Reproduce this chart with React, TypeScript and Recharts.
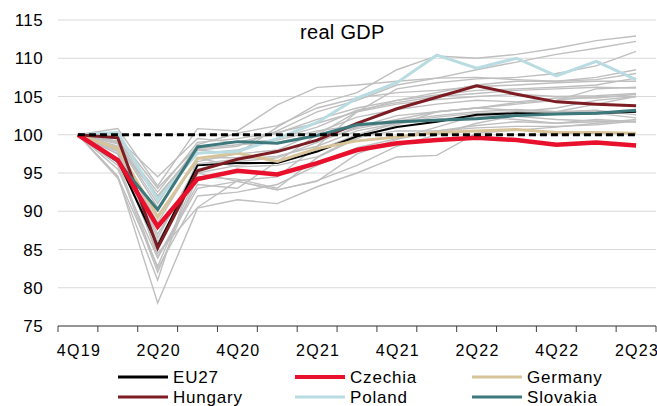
import React from 'react';
import { LineChart, Line, XAxis, YAxis, CartesianGrid } from 'recharts';

// quarters on the category axis, labels shown on every second one
const quarters = ['4Q19', '1Q20', '2Q20', '3Q20', '4Q20', '1Q21', '2Q21', '3Q21', '4Q21', '1Q22', '2Q22', '3Q22', '4Q22', '1Q23', '2Q23'];
const yTicks = [75, 80, 85, 90, 95, 100, 105, 110, 115];

// highlighted series, real GDP index 4Q19 = 100
const eu27 = [100, 96.7, 85.5, 96.0, 96.3, 96.3, 97.8, 99.8, 101.0, 101.7, 102.6, 102.8, 102.7, 102.8, 103.0];
const czechia = [100, 96.7, 88.0, 94.2, 95.3, 94.8, 96.3, 98.0, 98.9, 99.3, 99.6, 99.3, 98.7, 99.0, 98.6];
const germany = [100, 98.2, 89.2, 96.9, 97.6, 96.5, 98.2, 99.2, 99.7, 100.3, 100.5, 100.7, 100.3, 100.3, 100.2];
const hungary = [100, 99.6, 85.2, 95.3, 96.8, 97.8, 99.3, 101.5, 103.4, 104.9, 106.4, 105.3, 104.3, 104.0, 103.8];
const poland = [100, 100.3, 91.5, 97.6, 97.8, 99.5, 101.6, 104.8, 106.8, 110.4, 108.7, 110.0, 107.7, 109.6, 107.2];
const slovakia = [100, 96.5, 90.2, 98.4, 99.1, 98.9, 99.9, 101.3, 101.7, 101.9, 102.1, 102.5, 102.7, 102.8, 103.2];
const baseline = quarters.map(() => 100);

// the other member states, drawn in grey
const others = [
  [100, 94.6, 78.0, 90.4, 91.5, 91.0, 93.2, 95.0, 97.1, 97.3, 100.2, 100.6, 101.0, 101.5, 102.0],
  [100, 94.5, 82.8, 95.0, 93.9, 92.8, 93.9, 97.5, 99.4, 100.5, 101.2, 101.7, 101.5, 102.0, 101.7],
  [100, 96.0, 82.0, 94.5, 94.2, 93.0, 97.0, 99.5, 101.3, 103.0, 103.5, 104.2, 104.5, 106.0, 106.2],
  [100, 94.3, 81.0, 97.0, 95.8, 96.0, 97.1, 99.7, 100.5, 100.5, 100.9, 101.1, 101.1, 101.3, 101.8],
  [100, 99.0, 84.0, 93.5, 93.0, 96.5, 100.0, 103.0, 106.0, 106.8, 107.3, 107.5, 108.0, 109.0, 110.9],
  [100, 100.8, 93.3, 100.8, 100.5, 103.9, 106.2, 106.5, 107.0, 107.4, 107.5, 107.2, 107.0, 107.2, 108.0],
  [100, 99.5, 94.5, 99.5, 99.0, 100.2, 102.0, 103.5, 104.5, 105.2, 105.8, 106.0, 106.2, 106.5, 107.4],
  [100, 98.5, 92.0, 98.0, 97.5, 101.0, 104.0, 105.5, 108.5, 110.3, 110.0, 110.5, 111.3, 112.3, 112.9],
  [100, 98.8, 90.5, 98.0, 98.5, 100.5, 103.0, 104.5, 106.5, 107.4, 108.5, 109.5, 110.5, 111.3, 112.2],
  [100, 99.0, 91.8, 97.5, 98.0, 99.5, 101.0, 103.2, 104.2, 105.0, 105.4, 105.8, 106.0, 106.2, 106.1],
  [100, 97.8, 87.0, 95.5, 96.5, 97.0, 99.0, 101.0, 102.5, 103.0, 103.5, 103.2, 103.0, 103.2, 102.6],
  [100, 97.5, 86.5, 96.2, 96.8, 97.2, 98.5, 100.5, 101.5, 102.3, 102.8, 103.0, 102.8, 102.8, 102.2],
  [100, 98.0, 88.5, 97.0, 97.0, 97.8, 99.2, 100.8, 101.8, 102.5, 103.0, 103.3, 103.0, 103.0, 103.0],
  [100, 96.8, 86.0, 95.0, 96.0, 96.5, 98.0, 100.0, 101.5, 102.0, 102.5, 102.4, 102.0, 101.8, 101.7],
  [100, 99.2, 92.5, 99.0, 99.5, 100.3, 101.5, 103.0, 104.0, 104.6, 105.0, 105.3, 105.0, 105.1, 105.4],
  [100, 97.5, 84.5, 90.5, 94.0, 94.5, 98.5, 103.0, 104.5, 105.5, 106.5, 107.0, 107.0, 107.5, 108.5],
  [100, 95.5, 83.9, 93.0, 93.9, 92.8, 94.0, 96.0, 98.5, 100.0, 101.5, 102.5, 103.0, 104.0, 105.0],
  [100, 99.8, 93.0, 98.5, 99.0, 99.3, 100.5, 101.2, 101.5, 102.0, 102.3, 102.0, 101.5, 101.7, 101.7],
  [100, 99.5, 92.0, 98.2, 98.7, 99.0, 100.0, 101.0, 102.0, 103.0, 103.5, 104.0, 104.5, 105.0, 105.0],
  [100, 98.2, 89.5, 96.5, 97.5, 98.0, 100.3, 102.3, 103.3, 104.0, 104.5, 104.3, 104.8, 104.8, 105.3],
  [100, 99.0, 91.0, 98.7, 100.2, 101.2, 103.5, 104.8, 105.5, 105.8, 106.3, 106.5, 106.8, 107.0, 107.0],
  [100, 96.5, 82.5, 92.0, 92.5, 93.5, 96.0, 98.3, 99.5, 101.0, 102.5, 103.0, 103.5, 104.5, 105.0],
];

const highlighted = [
  { key: 'eu27', name: 'EU27', values: eu27, color: '#000000', width: 2 },
  { key: 'germany', name: 'Germany', values: germany, color: '#d8c49a', width: 3 },
  { key: 'poland', name: 'Poland', values: poland, color: '#b8dce1', width: 3 },
  { key: 'hungary', name: 'Hungary', values: hungary, color: '#7d1c23', width: 3 },
  { key: 'slovakia', name: 'Slovakia', values: slovakia, color: '#3d787c', width: 3 },
  { key: 'czechia', name: 'Czechia', values: czechia, color: '#e8102c', width: 4.5 },
];

// legend order as in the original
const legendOrder = ['eu27', 'czechia', 'germany', 'hungary', 'poland', 'slovakia'];

const W = 657;
const H = 406;
const PLOT_LEFT = 58;
const PLOT_RIGHT = 656;
const PLOT_BOTTOM = 326;
const BAND = (PLOT_RIGHT - PLOT_LEFT) / quarters.length;
const FONT = '"Liberation Sans", Arial, sans-serif';

const chartData = quarters.map((q, i) => {
  const row: Record<string, number | string> = { q, base: baseline[i] };
  highlighted.forEach(s => { row[s.key] = s.values[i]; });
  others.forEach((vals, k) => { row['g' + k] = vals[i]; });
  return row;
});

const QuarterTick = (props: any) => {
  const { x, index, payload } = props;
  const left = x - BAND / 2;
  return (
    <g>
      <line x1={left} x2={left} y1={PLOT_BOTTOM} y2={PLOT_BOTTOM + 6} stroke="#404040" strokeWidth={1} />
      {index === quarters.length - 1 && (
        <line x1={x + BAND / 2} x2={x + BAND / 2} y1={PLOT_BOTTOM} y2={PLOT_BOTTOM + 6} stroke="#404040" strokeWidth={1} />
      )}
      {index % 2 === 0 && (
        <text x={x + 1} y={356} textAnchor="middle" fontSize={16} letterSpacing={1.3} fill="#000" fontFamily={FONT}>
          {payload.value}
        </text>
      )}
    </g>
  );
};

export default function App() {
  const legendItems = legendOrder.map(k => highlighted.find(s => s.key === k)!);
  return (
    <div style={{ position: 'absolute', left: 0, top: 0, width: W, height: H, background: '#fff' }}>
      <LineChart width={W} height={H} data={chartData} margin={{ top: 20, right: W - PLOT_RIGHT, bottom: 40, left: 8 }}>
        <CartesianGrid vertical={false} stroke="#d9d9d9" strokeWidth={1} />
        <XAxis
          dataKey="q"
          scale="band"
          interval={0}
          height={40}
          tickLine={false}
          axisLine={{ stroke: '#404040', strokeWidth: 1 }}
          tick={<QuarterTick />}
        />
        <YAxis
          width={50}
          domain={[75, 115]}
          ticks={yTicks}
          axisLine={false}
          tickLine={false}
          tickSize={0}
          tickMargin={15}
          tick={{ fontSize: 17, fill: '#000', fontFamily: FONT, letterSpacing: 0.4 }}
        />
        {others.map((_, k) => (
          <Line
            key={'g' + k}
            dataKey={'g' + k}
            stroke="#bfbfbf"
            strokeWidth={1.4}
            dot={false}
            isAnimationActive={false}
          />
        ))}
        {highlighted.map(s => (
          <Line
            key={s.key}
            dataKey={s.key}
            name={s.name}
            stroke={s.color}
            strokeWidth={s.width}
            dot={false}
            isAnimationActive={false}
          />
        ))}
        <Line
          dataKey="base"
          stroke="#000"
          strokeWidth={3}
          strokeDasharray="7 4"
          dot={false}
          isAnimationActive={false}
        />
      </LineChart>
      <svg width={W} height={H} style={{ position: 'absolute', left: 0, top: 0, pointerEvents: 'none' }}>
        <text x={300} y={39} fontSize={20} letterSpacing={0.3} fontFamily={FONT} fill="#000">real GDP</text>
        {legendItems.map((s, i) => {
          const col = i % 3;
          const row = Math.floor(i / 3);
          const x0 = 118 + col * 177;
          const yLine = 377 + row * 20;
          return (
            <g key={s.key}>
              <line x1={x0} x2={x0 + 50} y1={yLine} y2={yLine} stroke={s.color} strokeWidth={s.key === 'czechia' ? 4 : 3} />
              <text x={x0 + 55} y={yLine + 6} fontSize={17} letterSpacing={0.8} fontFamily={FONT} fill="#000">{s.name}</text>
            </g>
          );
        })}
      </svg>
    </div>
  );
}
